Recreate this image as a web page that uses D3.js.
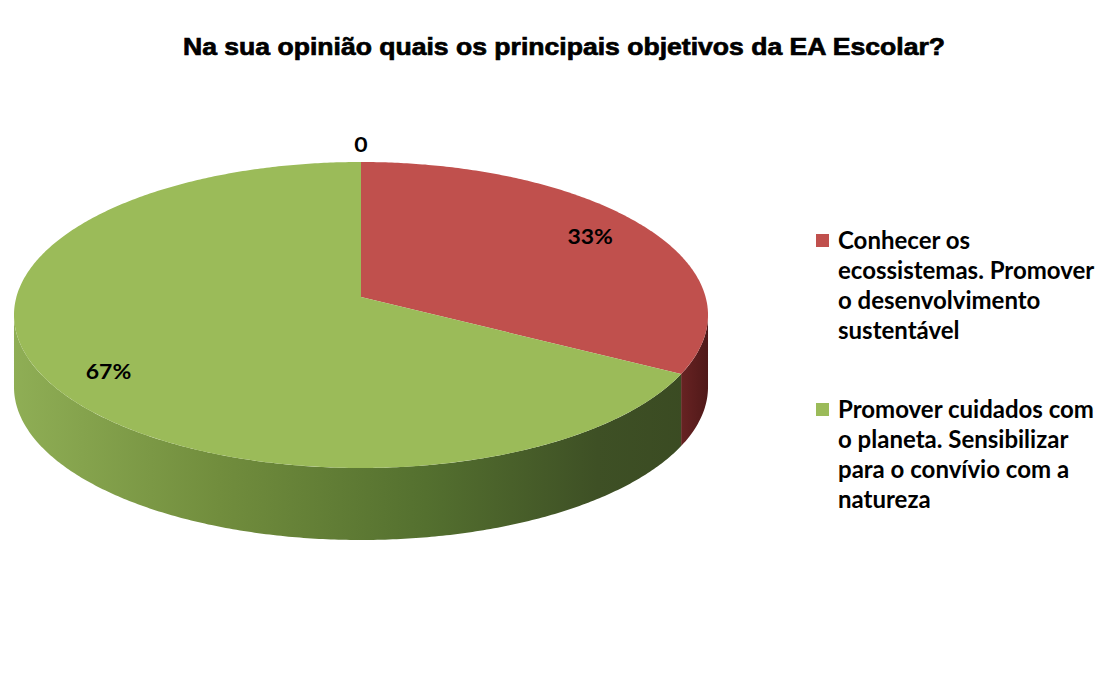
<!DOCTYPE html>
<html>
<head>
<meta charset="utf-8">
<script src="https://cdn.jsdelivr.net/npm/d3@7"></script>
<style>
  body { margin: 0; background: #fff; }
  text { font-family: Lato, "Open Sans", sans-serif; font-weight: 700; fill: #000; }
</style>
</head>
<body>
<script>
const title = "Na sua opinião quais os principais objetivos da EA Escolar?"
// first point is an empty category with value 0 (shown as "0" by the source sheet)
const categories = [
    null,
    ["Conhecer os", "ecossistemas. Promover", "o desenvolvimento", "sustentável"],
    ["Promover cuidados com", "o planeta. Sensibilizar", "para o convívio com a", "natureza"]
]
const values = [0, 33, 67]
const colors = ["#4f81bd", "#c0504d", "#9bbb59"]

const width = 1118, height = 686

// projected disc: centre of the disc on screen, radii, perspective factor and thickness
const cx = 361, cy = 297, A = 344.6, B = 150.9, k = 0.1176, depth = 72

const proj = (phi, r) => {
    const x = r * Math.sin(phi), z = r * Math.cos(phi), w = 1 + k * z
    return [cx + A * x / w, cy - B * z / w]
}

const arcPoints = (a0, a1, dy) => {
    const n = Math.max(2, Math.ceil((a1 - a0) / 0.01))
    return d3.range(n + 1).map(i => {
        const p = proj(a0 + (a1 - a0) * i / n, 1)
        return [p[0], p[1] + dy]
    })
}

const svg = d3.select("body")
    .append("svg")
    .attr("width", width)
    .attr("height", height)

const defs = svg.append("defs")
const sideGrad = [
    {id: "side1", x1: 660, x2: 710, stops: [["0%", "#7a2a2a"], ["100%", "#4e1818"]]},
    {id: "side2", x1: 14, x2: 700, stops: [["0%", "#8fae55"], ["30%", "#718d3d"], ["60%", "#54702f"], ["85%", "#3e5025"], ["100%", "#3a4a22"]]}
]
sideGrad.forEach(g => {
    const lg = defs.append("linearGradient")
        .attr("id", g.id)
        .attr("gradientUnits", "userSpaceOnUse")
        .attr("x1", g.x1).attr("x2", g.x2)
        .attr("y1", 0).attr("y2", 0)
    g.stops.forEach(s => lg.append("stop").attr("offset", s[0]).attr("stop-color", s[1]))
})

const color = d3.scaleOrdinal().domain(d3.range(values.length)).range(colors)
const pie = d3.pie().sort(null).value(d => d)
const arcs = pie(values)
const line = d3.line()

// front half of the wall, between the two silhouette points
const frontA = Math.acos(-k), frontB = 2 * Math.PI - Math.acos(-k)

const g = svg.append("g")

arcs.forEach((d, i) => {
    const s0 = Math.max(d.startAngle, frontA), s1 = Math.min(d.endAngle, frontB)
    if (s1 <= s0) return
    const top = arcPoints(s0, s1, 0)
    const bottom = arcPoints(s0, s1, depth).reverse()
    g.append("path")
        .attr("d", line(top.concat(bottom)) + "Z")
        .attr("fill", `url(#side${i})`)
})

arcs.forEach((d, i) => {
    if (d.endAngle - d.startAngle <= 0) return
    const pts = [[cx, cy]].concat(arcPoints(d.startAngle, d.endAngle, 0))
    g.append("path")
        .attr("d", line(pts) + "Z")
        .attr("fill", color(i))
})

// data labels
arcs.forEach((d, i) => {
    const mid = (d.startAngle + d.endAngle) / 2
    let p, txt
    if (d.value === 0) {
        p = proj(mid, 1)
        p[1] -= 10
        txt = "0"
    } else {
        p = proj(mid, 0.81)
        p[1] += 6 + Math.max(0, -Math.cos(mid)) * depth * 0.3
        txt = d3.format(".0%")(d.value / d3.sum(values))
    }
    svg.append("text")
        .attr("transform", `translate(${p[0]},${p[1]}) scale(1.15,1)`)
        .attr("text-anchor", "middle")
        .style("font-size", "20px")
        .text(txt)
})

// title
svg.append("text")
    .attr("x", 564).attr("y", 55)
    .attr("text-anchor", "middle")
    .attr("textLength", 762)
    .attr("lengthAdjust", "spacingAndGlyphs")
    .style("font-family", "'Liberation Sans', Arial, sans-serif")
    .style("font-size", "24px")
    .style("stroke", "#000")
    .style("stroke-width", "0.7px")
    .text(title)

// legend
const legendItems = categories.map((c, i) => ({lines: c, i})).filter(d => d.lines)
const legend = svg.append("g").attr("transform", "translate(816,0)")
const itemY = [234, 403]
legendItems.forEach((d, j) => {
    const y0 = itemY[j]
    legend.append("rect")
        .attr("x", 0).attr("y", y0)
        .attr("width", 13).attr("height", 13)
        .attr("fill", color(d.i))
    const t = legend.append("text")
        .attr("x", 22).attr("y", y0 + 15)
        .style("font-size", "24px")
    d.lines.forEach((l, li) => {
        t.append("tspan")
            .attr("x", 22)
            .attr("dy", li === 0 ? 0 : 30)
            .text(l)
    })
})
</script>
</body>
</html>
